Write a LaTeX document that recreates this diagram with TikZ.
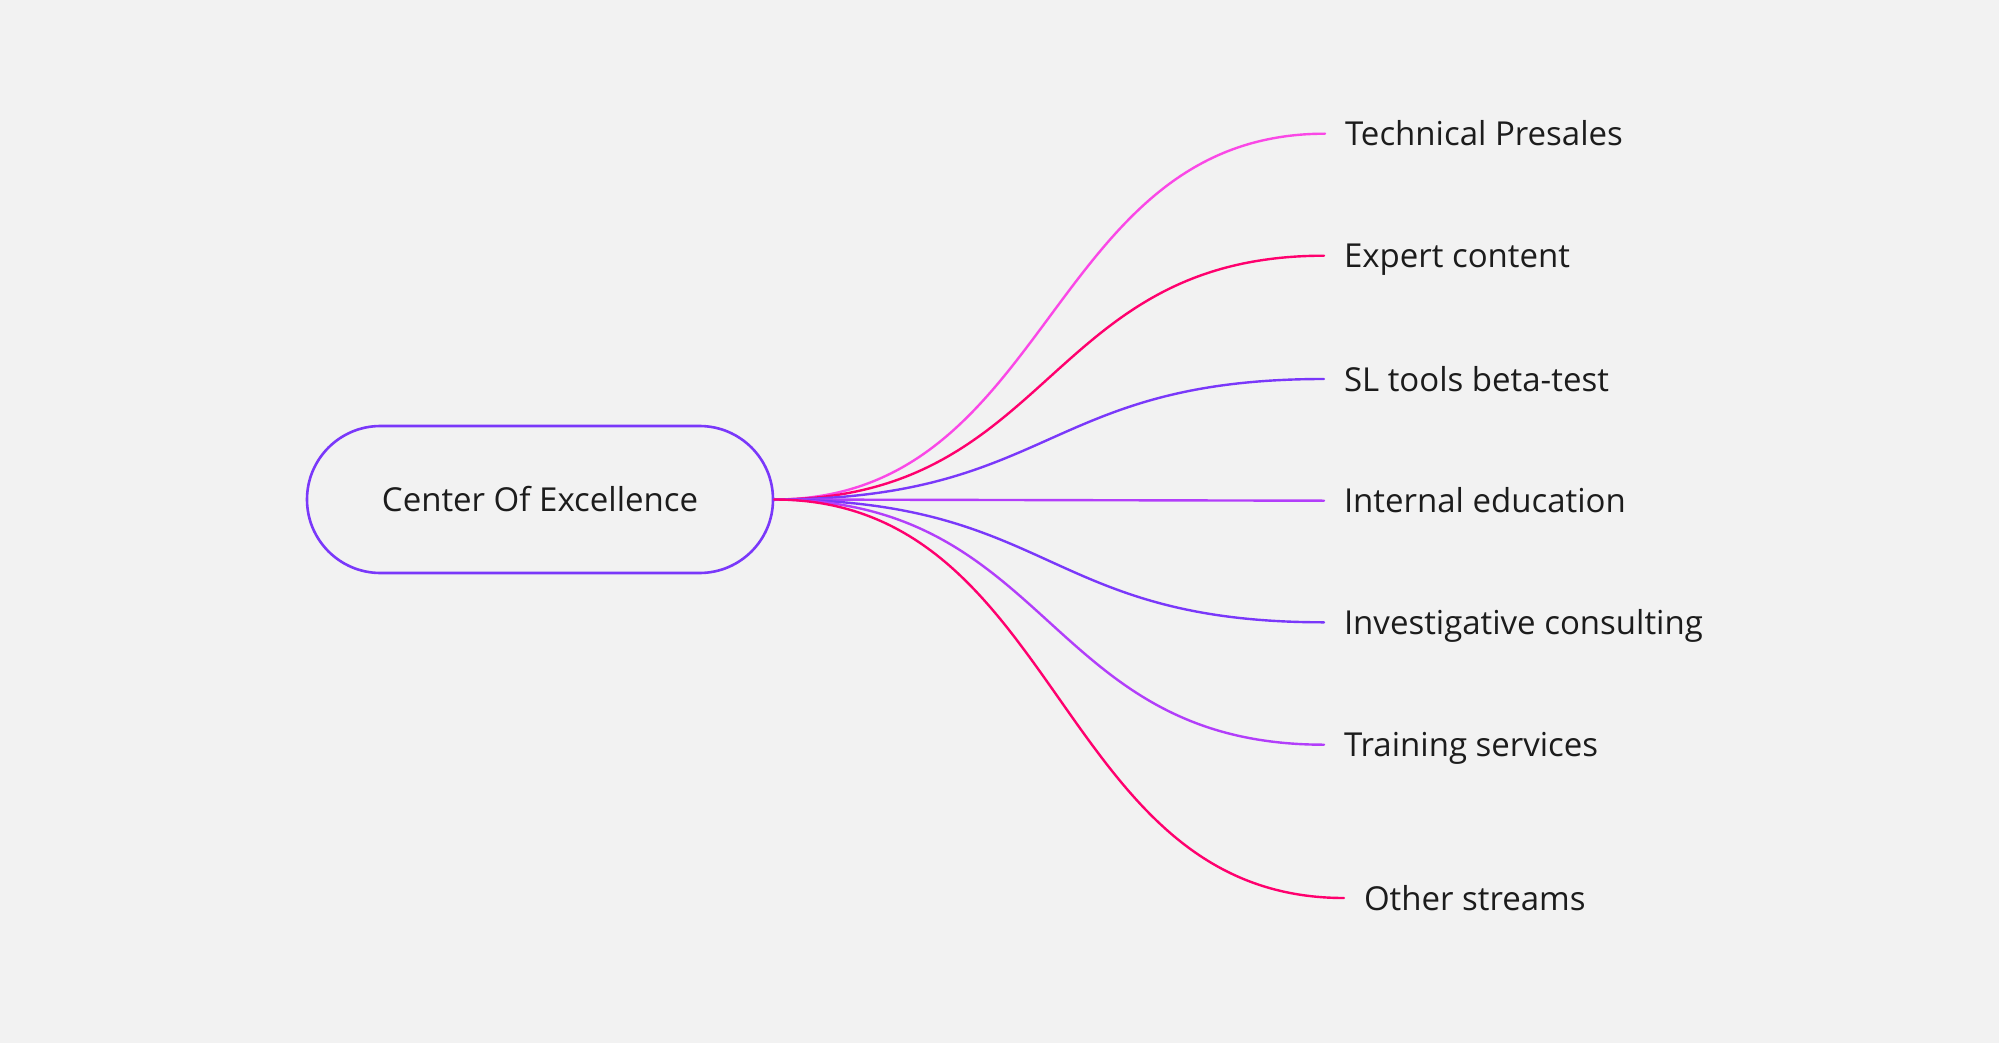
\documentclass[tikz,border=0pt]{standalone}
\usepackage{fontspec}
\setmainfont{Open Sans}
\definecolor{fond}{RGB}{242,242,242}
\definecolor{encre}{RGB}{28,28,28}
\definecolor{rose}{RGB}{250,72,230}
\definecolor{rouge}{RGB}{255,0,110}
\definecolor{violet}{RGB}{122,56,250}
\definecolor{mauve}{RGB}{178,62,250}
\usetikzlibrary{positioning}

\begin{document}
\begin{tikzpicture}[x=1pt,y=-1pt,
	racine/.style={draw=violet,line width=2.6pt,rounded corners=73.5pt,minimum width=466pt,minimum height=147pt,font=\fontsize{33}{36}\selectfont,text=encre},
	branche/.style={anchor=base west,inner sep=0pt,outer xsep=20pt,text height=24pt,text depth=0pt,font=\fontsize{33}{36}\selectfont,text=encre},
	lien/.style={line width=2.4pt,line cap=round}]
	\fill[fond] (0,0) rectangle (1999,1043);
	\useasboundingbox (0,0) rectangle (1999,1043);
	\node[racine] (coe) at (540,499.5) {Center Of Excellence};
	\node[branche] (tp) at (1325,145.7) {Technical Presales};
	\node[branche] (ec) at (1324,267.7) {Expert content};
	\node[branche] (sl) at (1324,391) {SL tools beta-test};
	\node[branche] (ie) at (1324,512.7) {Internal education};
	\node[branche] (ic) at (1324,634.3) {Investigative consulting};
	\node[branche] (ts) at (1324,756.7) {Training services};
	\node[branche] (os) at (1344,910) {Other streams};
	\draw[lien,rose] (coe.east) .. controls +(280,0) and +(-280,0) .. (tp.west);
	\draw[lien,rouge] (coe.east) .. controls +(280,0) and +(-280,0) .. (ec.west);
	\draw[lien,violet] (coe.east) .. controls +(280,0) and +(-280,0) .. (sl.west);
	\draw[lien,mauve] (coe.east) -- (ie.west);
	\draw[lien,violet] (coe.east) .. controls +(280,0) and +(-280,0) .. (ic.west);
	\draw[lien,mauve] (coe.east) .. controls +(280,0) and +(-280,0) .. (ts.west);
	\draw[lien,rouge] (coe.east) .. controls +(290,0) and +(-290,0) .. (os.west);
\end{tikzpicture}
\end{document}
